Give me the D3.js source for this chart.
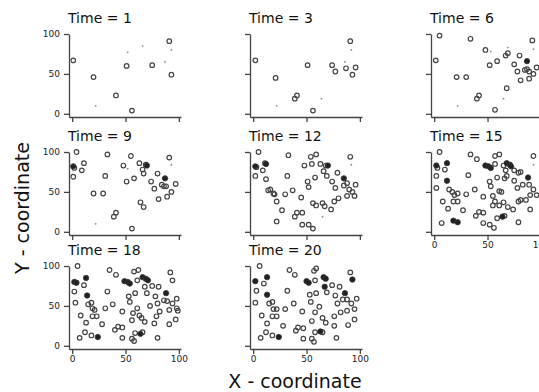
<!DOCTYPE html>
<html>
<head>
<meta charset="utf-8">
<script src="https://cdn.jsdelivr.net/npm/d3@7"></script>
<style>
  body { margin: 0; background: #fff; }
  text { font-family: "DejaVu Sans", Verdana, sans-serif; }
</style>
</head>
<body>
<div id="content-box"></div>
<script>
// points per time step: [x, y]
var t1Open = [[1,67],[20,46],[41,23],[51,60],[56,4],[75,61],[91,91],[93,49]];
var t1Filled = [];
var t1Dots = [[22,10],[52,77],[66,85],[87,65],[93,80]];

var t3Open = [[2,67],[21,45],[39,19],[41,23],[51,61],[56,4],[74,61],[77,53],[87,57],[91,91],[93,49],[96,58]];
var t3Filled = [];
var t3Dots = [[22,10],[64,19],[86,65],[92,80]];

var t6Open = [[5,98],[1.5,67],[34,94],[21,46],[30,46],[40,19],[42,23],[48,80],[52,61],[59,66],[57,5],[67,73],[69,76],[68,32],
  [75,62],[78,53],[80,73],[81,42],[87,56],[85,55],[89,53],[92,92],[93,50],[89,44],[96,58]];
var t6Filled = [[87,66]];
var t6Dots = [[22,10],[53,78],[69,83],[65,19],[93,81]];

var t9Open = [[4,100],[2,80],[1,69],[9,77],[11,86],[20,48],[29,48],[31,70],[33,97],[39,19],[41,24],[48,83],[51,63],[55,95],
  [56,4],[58,67],[63,86],[66,78],[69,84],[67,73],[64,37],[67,31],[74,63],[77,54],[80,73],[81,41],[84,59],[86,57],[88,57],
  [89,44],[91,93],[93,50],[97,60]];
var t9Filled = [[1,82],[70,83],[87,67]];
var t9Dots = [[22,10],[52,79],[93,84]];

var t12Open = [[5,100],[3,81],[2,70],[9,77],[11,86],[12,66],[14,52],[16,53],[19,48],[20,47],[22,38],[22,13],[27,27],[30,47],
  [32,70],[33,96],[37,52],[39,19],[41,24],[46,24],[45,43],[46,9],[48,83],[51,63],[52,9],[52,56],[54,94],[56,4],[55,85],
  [56,36],[59,97],[58,68],[59,33],[63,85],[65,36],[66,76],[67,32],[68,83],[69,70],[73,28],[74,63],[76,38],[77,55],[79,74],
  [80,42],[85,58],[88,61],[88,45],[90,53],[91,94],[93,50],[95,45],[96,59]];
var t12Filled = [[2,82],[12,85],[70,83],[85,67]];
var t12Dots = [[65,19],[92,84]];

var t15Open = [[5,100],[3,80],[2,70],[2,55],[10,78],[14,53],[17,50],[19,46],[22,48],[18,38],[22,38],[8,38],[13,29],[7,11],
  [27,27],[30,47],[32,71],[34,97],[40,91],[38,53],[39,20],[42,25],[46,24],[46,44],[46,11],[52,63],[53,57],[52,9],[56,5],
  [55,33],[57,95],[61,97],[59,68],[57,38],[61,51],[63,50],[59,17],[66,20],[65,37],[61,33],[69,31],[67,77],[68,70],[66,67],
  [75,77],[74,28],[75,64],[79,38],[78,55],[79,74],[81,40],[86,40],[83,59],[89,59],[90,46],[96,46],[90,28],[93,95],[93,53],
  [55,45],[65,83],[57,85],[81,75],[79,12]];
var t15Filled = [[2,83],[12,86],[12,64],[18,14],[22,12],[48,83],[51,82],[53,80],[64,19],[68,86],[71,84],[72,82],[88,68]];
var t15Dots = [[93,84]];

var t18Open = [[5,100],[2,68],[3,54],[8,38],[7,10],[11,76],[15,52],[18,54],[19,47],[21,45],[19,37],[23,37],[13,29],[12,17],
  [18,13],[28,27],[31,47],[33,68],[35,95],[41,89],[38,52],[40,20],[43,24],[47,23],[47,43],[47,10],[53,62],[54,55],[56,9],
  [58,6],[56,32],[58,93],[61,82],[62,95],[59,66],[57,41],[61,47],[66,17],[59,16],[65,35],[68,30],[68,74],[70,66],[75,75],
  [77,28],[78,62],[79,37],[80,53],[81,74],[82,43],[80,10],[86,57],[89,56],[91,45],[91,27],[92,92],[94,82],[94,53],[98,47],
  [97,33],[98,59],[99,44],[63,38],[73,50]];
var t18Filled = [[2,80],[4,79],[13,85],[14,63],[24,11],[49,81],[52,80],[54,78],[64,15],[66,86],[69,84],[71,82],[88,66]];
var t18Dots = [];

var t20Open = [[6,100],[3,69],[2,54],[8,38],[7,10],[10,78],[15,53],[18,55],[19,46],[22,46],[18,37],[22,37],[13,28],[12,17],
  [18,13],[28,25],[30,46],[32,69],[34,95],[39,89],[38,53],[40,19],[42,23],[47,22],[46,43],[47,9],[53,64],[54,55],[55,9],
  [57,5],[55,31],[57,94],[59,97],[58,82],[59,66],[58,42],[62,49],[65,17],[58,17],[65,35],[68,29],[69,67],[74,76],[76,25],
  [77,63],[76,37],[79,53],[81,74],[82,42],[78,10],[84,58],[88,58],[88,44],[89,26],[91,92],[92,53],[95,46],[95,33],[97,59]];
var t20Filled = [[2,81],[13,86],[13,64],[24,11],[50,81],[52,79],[63,18],[66,86],[68,84],[67,74],[86,66],[93,83]];
var t20Dots = [];

var times = [1, 3, 6, 9, 12, 15, 18, 20];
var tickValues = [0, 50, 100];
var xLabel = "X - coordinate";
var yLabel = "Y - coordinate";

var panels = [
  {time: 1, open: t1Open, filled: t1Filled, dots: t1Dots},
  {time: 3, open: t3Open, filled: t3Filled, dots: t3Dots},
  {time: 6, open: t6Open, filled: t6Filled, dots: t6Dots},
  {time: 9, open: t9Open, filled: t9Filled, dots: t9Dots},
  {time: 12, open: t12Open, filled: t12Filled, dots: t12Dots},
  {time: 15, open: t15Open, filled: t15Filled, dots: t15Dots},
  {time: 18, open: t18Open, filled: t18Filled, dots: t18Dots},
  {time: 20, open: t20Open, filled: t20Filled, dots: t20Dots}
];

var W = 539, H = 392;
var colX = [69, 250, 431];
var rowY = [34, 152, 266];
var pw = 112, ph = 83;

var xscale = d3.scaleLinear().domain([-3, 102]).range([0, pw]);
var yscale = d3.scaleLinear().domain([-4, 100]).range([ph, 0]);

var svg = d3.select("#content-box").append("svg")
  .attr("width", W)
  .attr("height", H);

panels.forEach(function(p, i) {
  var col = i % 3, row = Math.floor(i / 3);
  var g = svg.append("g")
    .attr("transform", "translate(" + colX[col] + "," + rowY[row] + ")");

  g.append("text")
    .attr("x", -1)
    .attr("y", -11)
    .attr("font-size", 14)
    .attr("fill", "#111")
    .text("Time = " + p.time);

  // x labels only on the lowest panel of each column
  var showX = (i >= 5);
  var xAxis = d3.axisBottom(xscale).tickValues(tickValues).tickSize(5).tickSizeOuter(0).tickPadding(2)
    .tickFormat(showX ? d3.format("d") : "");
  var yAxis = d3.axisLeft(yscale).tickValues(tickValues).tickSize(5).tickSizeOuter(0).tickPadding(4)
    .tickFormat(col === 0 ? d3.format("d") : "");

  var ga = g.append("g").attr("transform", "translate(0," + ph + ")").call(xAxis);
  var gy = g.append("g").call(yAxis);
  [ga, gy].forEach(function(a) {
    a.selectAll("path, line").attr("stroke", "#444").attr("stroke-width", 1.3);
    a.selectAll("text").attr("font-size", 9).attr("fill", "#222")
      .style("font-family", "'DejaVu Sans', sans-serif");
  });

  g.selectAll(".dot")
    .data(p.dots)
    .enter().append("circle")
    .attr("r", 0.9)
    .attr("cx", function(d) { return xscale(d[0]); })
    .attr("cy", function(d) { return yscale(d[1]); })
    .attr("fill", "#888");

  g.selectAll(".open")
    .data(p.open)
    .enter().append("circle")
    .attr("r", 2.3)
    .attr("cx", function(d) { return xscale(d[0]); })
    .attr("cy", function(d) { return yscale(d[1]); })
    .attr("fill", "none")
    .attr("stroke", "#444")
    .attr("stroke-width", 1.2);

  g.selectAll(".filled")
    .data(p.filled)
    .enter().append("circle")
    .attr("r", 2.7)
    .attr("cx", function(d) { return xscale(d[0]); })
    .attr("cy", function(d) { return yscale(d[1]); })
    .attr("fill", "#222")
    .attr("stroke", "#333")
    .attr("stroke-width", 0.8);
});

svg.append("text")
  .attr("x", 295)
  .attr("y", 388)
  .attr("text-anchor", "middle")
  .attr("font-size", 19)
  .attr("fill", "#111")
  .text(xLabel);

svg.append("text")
  .attr("transform", "translate(29,208) rotate(-90)")
  .attr("text-anchor", "middle")
  .attr("font-size", 19)
  .attr("fill", "#111")
  .text(yLabel);
</script>
</body>
</html>
